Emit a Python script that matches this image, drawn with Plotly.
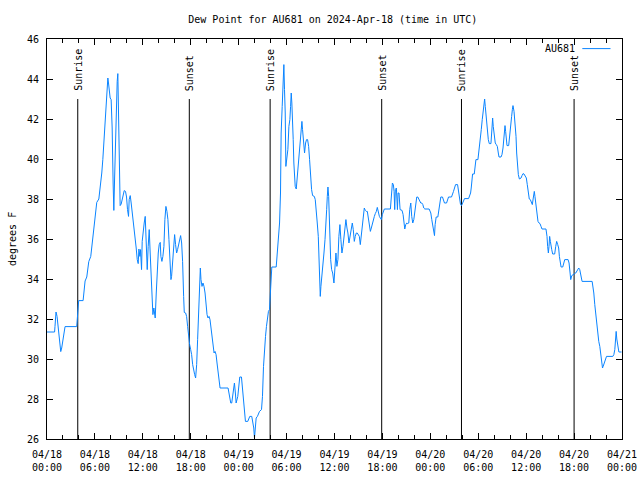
import pandas as pd
import plotly.graph_objects as go

station = "AU681"
start = pd.Timestamp("2024-04-18 00:00")

# hours since 2024-04-18 00:00 UTC
hours = [
    0.00, 0.95, 1.00, 1.13, 1.26, 1.38, 1.51, 1.63, 1.72, 1.84, 1.97, 2.09, 2.26, 3.72, 3.77, 3.89, 3.97, 4.52, 4.64, 4.77,
    4.98, 5.10, 5.23, 5.48, 5.61, 5.73, 5.86, 5.98, 6.11, 6.23, 6.49, 6.61, 6.74, 6.86, 6.99, 7.11, 7.24, 7.36, 7.49, 7.62,
    7.70, 7.78, 7.91, 8.03, 8.16, 8.28, 8.37, 8.45, 8.58, 8.70, 8.79, 8.87, 8.95, 9.04, 9.16, 9.29, 9.41, 9.54, 9.67, 9.83,
    9.96, 10.08, 10.21, 10.29, 10.42, 10.54, 10.67, 10.79, 10.92, 11.05, 11.17, 11.30, 11.42, 11.51, 11.63,
    11.71, 11.84, 11.92, 12.04, 12.17, 12.30, 12.42, 12.55, 12.67, 12.80, 12.92, 13.05, 13.17, 13.26, 13.38, 13.47, 13.55,
    13.68, 13.80, 13.93, 14.05, 14.18, 14.26, 14.39, 14.51, 14.64, 14.76, 14.89, 15.02, 15.14, 15.27, 15.39, 15.52, 15.60,
    15.73, 15.85, 15.98, 16.10, 16.23, 16.35, 16.48, 16.61, 16.73, 16.86, 16.98, 17.11, 17.19, 17.36, 17.48, 17.61, 17.74,
    17.86, 17.99, 18.11, 18.24, 18.36, 18.49, 18.61, 18.74, 18.86, 18.99, 19.12, 19.20, 19.28, 19.41, 19.53, 19.66, 19.79,
    19.91, 20.04, 20.16, 20.29, 20.41, 20.54, 20.66, 20.79, 20.92, 21.04, 21.17, 21.29, 21.42, 21.54, 21.67, 22.67, 22.76,
    22.88, 23.01, 23.13, 23.26, 23.38, 23.47, 23.59, 23.68,
    23.89, 24.01, 24.14, 24.35, 24.47, 24.60, 24.72, 24.85, 25.14, 25.27, 25.39, 25.64, 25.77, 25.89, 25.98, 26.06, 26.19,
    26.35, 26.48, 26.61, 26.86, 26.98, 27.11, 27.23, 27.36, 27.48, 27.61, 27.73, 27.86, 27.94, 28.03, 28.15, 28.70, 28.78,
    28.86, 28.99, 29.12, 29.24, 29.32, 29.45, 29.53, 29.62, 29.66, 29.74, 29.83, 29.91, 29.99, 30.08, 30.16, 30.29, 30.41,
    30.50, 30.58, 30.66, 30.75, 30.83, 30.91, 31.00, 31.08, 31.21, 31.33, 31.46, 31.58, 31.71, 31.84, 31.92, 32.00, 32.13,
    32.25, 32.38, 32.50, 32.63, 32.76, 32.88, 33.01, 33.13, 33.26, 33.47, 33.59, 33.72, 33.84, 33.97, 34.05, 34.14, 34.22,
    34.30, 34.43, 34.56, 34.68, 34.81, 34.93, 35.02, 35.10, 35.18, 35.27, 35.35, 35.43, 35.52, 35.64, 35.77,
    35.93, 36.05, 36.18, 36.30, 36.43, 36.55, 36.68, 36.80, 36.93, 37.06, 37.18, 37.31, 37.43, 37.56, 37.68, 37.81, 37.93,
    38.10, 38.23, 38.35, 38.48, 38.60, 38.73, 38.85, 38.98, 39.11, 39.23, 39.36, 39.48, 39.61, 39.73, 39.86, 39.98, 40.11,
    40.24, 40.36, 40.49, 40.61, 40.74, 40.86, 40.99, 41.11, 41.24, 41.36, 41.49, 41.62, 41.74, 41.87, 41.99, 42.12, 42.24,
    43.00, 43.12, 43.25, 43.37, 43.46, 43.54, 43.62, 43.75, 43.88, 43.96, 44.08, 44.21, 44.34, 44.46, 44.59, 44.67, 44.80,
    44.92, 45.05, 45.17, 45.30, 45.42, 45.55, 45.67, 45.80, 45.93, 46.05, 46.18, 46.30, 46.43, 46.55, 46.68, 46.80, 46.93,
    47.06, 47.18, 47.31,
    47.85, 48.06, 48.18, 48.31, 48.44, 48.52, 48.60, 48.73, 48.94, 49.06, 49.19, 49.31, 49.52, 49.65, 49.77, 50.03, 50.15,
    50.28, 50.65, 50.78, 50.90, 51.03, 51.16, 51.41, 51.53, 51.66, 51.78, 51.91, 52.03, 52.16, 52.28, 52.79, 52.91, 53.04,
    53.12, 53.21, 53.29, 53.50, 53.58, 53.71, 53.96, 54.04, 54.13, 54.25, 54.38, 54.50, 54.63, 54.71, 54.80, 54.88, 55.00,
    55.13, 55.26, 55.38, 55.59, 55.72, 55.80, 55.88, 56.01, 56.13, 56.26, 56.39, 56.51, 56.60, 56.85, 56.97, 57.10, 57.18,
    57.26, 57.35, 57.43, 57.52, 57.60, 57.81, 57.93, 58.06, 58.18, 58.27, 58.35, 58.48, 58.60, 58.73, 58.81, 58.90, 59.02,
    59.15, 59.36, 59.48, 59.61, 59.73,
    59.89, 60.02, 60.14, 60.27, 60.39, 60.52, 60.64, 60.77, 60.89, 61.02, 61.10, 61.23, 61.35, 61.48, 61.61, 61.73, 61.86,
    61.98, 62.48, 62.61, 62.69, 62.78, 62.86, 62.94, 63.03, 63.11, 63.20, 63.32, 63.57, 63.70, 63.82, 63.95, 64.07, 64.16,
    64.28, 64.37, 64.58, 64.70, 64.83, 65.25, 65.37, 65.50, 65.58, 65.71, 65.83, 65.96, 66.08, 66.21, 66.33, 66.46, 66.58,
    66.71, 66.84, 67.00, 68.26, 68.38, 68.47, 68.59, 68.72, 68.84, 68.97, 69.09, 69.22, 69.35, 69.47, 69.56, 69.64, 69.76,
    69.89, 70.06, 70.85, 70.98, 71.10, 71.19, 71.27, 71.35, 71.48, 71.61, 71.94,
]

# dew point, degrees F
dew_point = [
    31.35, 31.35, 31.63, 32.35, 32.13, 31.63, 31.13, 30.63, 30.37, 30.55, 30.88, 31.33, 31.62, 31.62, 31.88, 32.58, 32.92, 32.92, 33.63, 33.90,
    34.10, 34.60, 34.87, 35.13, 35.60, 36.10, 36.63, 37.13, 37.63, 37.83, 38.00, 38.37, 38.80, 39.30, 39.97, 40.80, 41.30, 42.00, 43.38, 44.05,
    43.80, 43.30, 43.05, 42.97, 41.55, 38.80, 37.43, 38.80, 41.47, 43.38, 43.88, 44.27, 42.63, 39.30, 37.67, 37.75, 37.97, 38.22, 38.42, 38.38,
    38.10, 37.47, 37.13, 37.97, 38.17, 37.80, 37.38, 36.97, 36.55, 36.05, 35.55, 34.97, 34.77, 35.50, 35.13,
    35.47, 34.47, 35.88, 36.47, 36.80, 37.13, 35.97, 34.47, 35.63, 36.47, 35.30, 34.30, 33.30, 32.22, 32.55, 32.30, 32.05,
    33.30, 34.47, 35.30, 35.72, 35.83, 35.13, 34.88, 35.13, 35.63, 36.97, 37.63, 37.38, 36.97, 35.97, 34.97, 33.97, 34.13,
    34.80, 35.63, 36.22, 35.72, 35.30, 35.47, 35.72, 35.97, 36.17, 35.80, 34.88, 33.13, 32.33, 32.30, 32.13, 31.63, 30.88,
    30.72, 30.47, 30.22, 29.72, 29.38, 29.22, 29.05, 29.72, 30.97, 32.30, 34.13, 34.55, 33.97, 33.63, 33.80, 33.63, 33.30,
    32.63, 32.22, 32.05, 32.13, 31.97, 31.47, 30.97, 30.47, 30.30, 30.38, 30.22, 29.80, 29.30, 28.80, 28.55, 28.55, 28.30,
    28.00, 27.80, 27.80, 28.13, 28.55, 28.80, 28.30, 27.80,
    28.13, 28.72, 29.10, 29.10, 28.55, 28.05, 27.55, 26.88, 26.88, 27.05, 27.13, 27.13, 26.88, 26.55, 26.05, 26.63, 27.05,
    27.13, 27.27, 27.38, 27.47, 28.13, 29.63, 30.63, 31.13, 31.63, 32.13, 32.38, 32.47, 33.13, 34.13, 34.60, 34.60, 34.97,
    35.55, 36.13, 36.80, 38.30, 41.30, 42.63, 43.80, 44.22, 44.72, 43.47, 42.30, 39.63, 39.88, 39.97, 40.47, 41.63, 41.97,
    42.63, 43.30, 42.80, 42.13, 40.97, 39.80, 38.72, 38.63, 38.50, 39.05, 39.80, 40.47, 40.97, 41.55, 41.88, 41.47, 40.72,
    40.30, 40.80, 40.97, 40.97, 40.63, 39.97, 39.13, 38.47, 38.17, 38.13, 37.97, 37.47, 36.80, 36.13, 35.13, 34.13, 33.13,
    33.63, 34.13, 34.80, 35.30, 35.97, 36.63, 37.47, 38.13, 38.60, 38.13, 37.13, 35.80, 34.97, 34.47, 34.30,
    33.80, 34.80, 35.30, 34.63, 34.97, 36.13, 36.72, 35.97, 35.30, 35.63, 36.05, 36.63, 36.97, 36.55, 36.30, 35.80, 36.05,
    36.38, 36.80, 36.47, 35.88, 36.13, 36.30, 36.30, 36.22, 36.13, 35.72, 36.13, 36.72, 37.22, 37.55, 37.43, 37.38, 37.38,
    37.05, 36.72, 36.38, 36.55, 36.80, 36.97, 37.13, 37.27, 37.38, 37.58, 37.30, 37.13, 37.05, 36.97, 37.22, 37.38, 37.50,
    37.50, 38.47, 38.80, 38.72, 38.38, 37.47, 38.47, 38.55, 37.47, 38.30, 38.30, 37.47, 37.43, 37.43, 37.22, 36.80, 36.50,
    36.72, 36.80, 36.77, 36.80, 37.47, 37.80, 37.13, 36.80, 36.97, 37.38, 37.80, 38.10, 38.10, 38.00, 37.88, 37.80, 37.80,
    37.72, 37.55, 37.50,
    37.50, 37.30, 36.97, 36.55, 36.33, 36.17, 36.72, 37.10, 37.10, 37.38, 37.80, 38.10, 38.10, 37.97, 37.80, 37.80, 37.97,
    38.10, 38.10, 38.22, 38.38, 38.55, 38.72, 38.72, 38.38, 37.97, 37.72, 37.67, 37.80, 37.97, 38.02, 38.02, 38.13, 38.30,
    38.55, 38.97, 39.25, 39.25, 39.63, 39.97, 39.97, 40.22, 40.63, 41.13, 41.47, 41.97, 42.47, 42.97, 43.00, 42.63, 42.05,
    41.55, 40.97, 40.77, 40.77, 41.55, 42.05, 41.63, 41.13, 40.80, 40.72, 40.63, 40.30, 40.10, 40.10, 40.22, 40.55, 40.97,
    41.47, 41.67, 41.38, 40.97, 40.67, 40.67, 41.05, 41.63, 42.13, 42.47, 42.67, 42.38, 41.80, 41.13, 40.30, 39.72, 39.22,
    39.00, 39.05, 39.17, 39.27, 39.25,
    39.13, 39.05, 38.72, 38.13, 38.00, 37.97, 37.88, 37.72, 38.05, 38.38, 38.13, 37.63, 37.22, 36.88, 36.80, 36.77, 36.63,
    36.50, 36.50, 36.13, 35.63, 35.30, 35.63, 36.13, 35.88, 35.50, 35.47, 35.25, 35.25, 35.63, 35.88, 35.72, 35.55, 35.13,
    34.72, 34.60, 34.60, 34.80, 34.97, 34.97, 34.80, 34.30, 33.97, 34.17, 34.22, 34.25, 34.27, 34.30, 34.38, 34.50, 34.55,
    34.47, 34.22, 33.88, 33.88, 33.63, 33.30, 32.72, 32.22, 31.72, 31.30, 30.88, 30.63, 30.30, 29.97, 29.55, 29.63, 29.80,
    29.97, 30.13, 30.13, 30.22, 30.47, 31.05, 31.38, 31.00, 30.63, 30.35, 30.35,
]

sun_labels = ["Sunrise", "Sunset", "Sunrise", "Sunset", "Sunrise", "Sunset"]
sun_hours = [3.85, 17.82, 27.94, 41.91, 51.90, 66.00]
sun_line_top = 43.0

y_min, y_max, y_step = 26, 46, 2

times = [start + pd.Timedelta(hours=h) for h in hours]
sun_times = [start + pd.Timedelta(hours=h) for h in sun_hours]
end = start + pd.Timedelta(hours=72)

FONT = "DejaVu Sans Mono"
BLUE = "#0a84ff"

fig = go.Figure()

for t in sun_times:
    fig.add_trace(go.Scatter(x=[t, t], y=[y_min, sun_line_top], mode="lines",
                             line=dict(color="black", width=1), showlegend=False,
                             hoverinfo="skip"))

fig.add_trace(go.Scatter(x=times, y=dew_point, mode="lines", name=station,
                         line=dict(color=BLUE, width=1), showlegend=False))

for lab, t in zip(sun_labels, sun_times):
    fig.add_annotation(x=t, y=sun_line_top + 0.3, text=lab, textangle=-90,
                       showarrow=False, xanchor="center", yanchor="bottom",
                       font=dict(family=FONT, size=10, color="black"))

# legend (gnuplot style: text then sample line)
fig.add_annotation(xref="paper", yref="paper", x=0.921, y=0.976, text=station,
                   showarrow=False, xanchor="right", yanchor="middle",
                   font=dict(family=FONT, size=10, color="black"))
fig.add_shape(type="line", xref="paper", yref="paper", x0=0.931, x1=0.980,
              y0=0.976, y1=0.976, line=dict(color=BLUE, width=1))

# y-axis label
fig.add_annotation(xref="paper", yref="paper", x=0, y=0.5, xshift=-35,
                   text="degrees F", textangle=-90, showarrow=False,
                   xanchor="center", yanchor="middle",
                   font=dict(family=FONT, size=10, color="black"))

fig.update_layout(
    width=640, height=480,
    margin=dict(l=47, r=18, t=39, b=41, autoexpand=False),
    paper_bgcolor="white", plot_bgcolor="white",
    font=dict(family=FONT, size=10, color="black"),
    title=dict(text=f"Dew Point for {station} on 2024-Apr-18 (time in UTC)",
               x=0.497, xref="paper", xanchor="center", y=1 - 19 / 480, yanchor="middle",
               yref="container", font=dict(family=FONT, size=10, color="black")),
    showlegend=False,
)

fig.update_xaxes(
    type="date", range=[start, end],
    dtick=6 * 3600 * 1000, tick0=start,
    tickformat="%m/%d<br>%H:%M",
    ticks="inside", ticklen=6, tickcolor="black",
    minor=dict(dtick=2 * 3600 * 1000, ticks="inside", ticklen=4, tickcolor="black", showgrid=False),
    showline=True, linecolor="black", linewidth=1, mirror="ticks",
    showgrid=False, zeroline=False, tickfont=dict(family=FONT, size=10),
    ticklabelstandoff=6,
)
fig.update_yaxes(
    range=[y_min, y_max], dtick=y_step, tick0=y_min,
    ticks="inside", ticklen=6, tickcolor="black",
    showline=True, linecolor="black", linewidth=1, mirror="ticks",
    showgrid=False, zeroline=False, tickfont=dict(family=FONT, size=10),
    ticklabelstandoff=5,
)

fig.write_html("out.html", config={"displayModeBar": False},
               post_script="document.body.style.margin='0';")
